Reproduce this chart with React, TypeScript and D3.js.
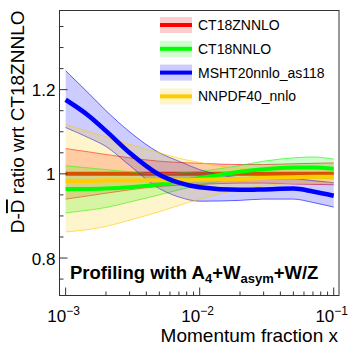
import React from 'react';
import * as d3 from 'd3';

// momentum fraction grid
const xs = [0.001, 0.0015, 0.002, 0.003, 0.005, 0.007, 0.01, 0.02, 0.03, 0.05, 0.07, 0.1];

const ct18zCen = [1, 1, 1, 1, 1, 1, 1, 1, 1, 1, 1, 1];
const ct18zUp = [1.06, 1.052, 1.046, 1.038, 1.03, 1.027, 1.025, 1.022, 1.022, 1.024, 1.025, 1.026];
const ct18zLo = [0.94, 0.948, 0.954, 0.962, 0.97, 0.973, 0.975, 0.978, 0.978, 0.976, 0.975, 0.974];

const ct18Cen = [0.964, 0.964, 0.965, 0.968, 0.975, 0.982, 0.99, 1.005, 1.011, 1.015, 1.015, 1.012];
const ct18Up = [1.019, 1.014, 1.01, 1.005, 1.0, 1.002, 1.006, 1.02, 1.03, 1.038, 1.04, 1.035];
const ct18Lo = [0.907, 0.914, 0.92, 0.933, 0.95, 0.962, 0.973, 0.99, 0.993, 0.993, 0.99, 0.988];

const mshtCen = [1.176, 1.137, 1.102, 1.05, 0.998, 0.979, 0.968, 0.962, 0.963, 0.965, 0.958, 0.948];
const mshtUp = [1.245, 1.19, 1.15, 1.1, 1.05, 1.03, 1.01, 0.99, 0.987, 0.988, 0.984, 0.979];
const mshtLo = [1.11, 1.085, 1.065, 1.02, 0.965, 0.945, 0.935, 0.937, 0.94, 0.94, 0.932, 0.921];

const nnpdfCen = [0.983, 0.983, 0.984, 0.984, 0.985, 0.985, 0.986, 0.988, 0.99, 0.992, 0.993, 0.993];
const nnpdfUp = [1.117, 1.1, 1.088, 1.07, 1.05, 1.037, 1.027, 1.013, 1.01, 1.01, 1.01, 1.01];
const nnpdfLo = [0.862, 0.868, 0.875, 0.89, 0.91, 0.925, 0.94, 0.963, 0.972, 0.977, 0.978, 0.978];

const names = ['CT18ZNNLO', 'CT18NNLO', 'MSHT20nnlo_as118', 'NNPDF40_nnlo'];
const colors = ['#ff0000', '#00ff00', '#0000ff', '#ffcc00'];

const yMajor = [0.8, 1, 1.2];
const yMajorLabels = ['0.8', '1', '1.2'];
const xMajor = [0.001, 0.01, 0.1];
const xMajorExp = ['−3', '−2', '−1'];

const frame = { left: 59.5, right: 339, top: 10.5, bottom: 295.5 };

const x = d3.scaleLog().domain([0.0009, 0.1095]).range([frame.left, frame.right]);
const y = d3.scaleLinear().domain([0.711, 1.388]).range([frame.bottom, frame.top]);

const sets = [
  { cen: ct18zCen, up: ct18zUp, lo: ct18zLo },
  { cen: ct18Cen, up: ct18Up, lo: ct18Lo },
  { cen: mshtCen, up: mshtUp, lo: mshtLo },
  { cen: nnpdfCen, up: nnpdfUp, lo: nnpdfLo },
];

const line = (vals: number[]) =>
  d3.line<number>().x((_, i) => x(xs[i])).y((d) => y(d)).curve(d3.curveMonotoneX)(vals) || '';

const band = (up: number[], lo: number[]) =>
  d3
    .area<number>()
    .x((_, i) => x(xs[i]))
    .y0((_, i) => y(lo[i]))
    .y1((d) => y(d))
    .curve(d3.curveMonotoneX)(up) || '';

export default function App() {
  const font = "'Liberation Sans', Arial, Helvetica, sans-serif";

  // minor ticks
  const yMinor = d3.range(0.75, 1.36, 0.05).filter((v) => !yMajor.some((m) => Math.abs(m - v) < 1e-6));
  const xMinor: number[] = [];
  [0.001, 0.01].forEach((dec) => {
    for (let k = 2; k <= 9; k++) xMinor.push(dec * k);
  });

  return (
    <div style={{ position: 'fixed', left: 0, top: 0 }}>
      <svg width={349} height={349} style={{ display: 'block', background: '#fff' }} fontFamily={font}>
        {/* bands and lines */}
        {sets.map((s, i) => (
          <g key={'b' + i}>
            <path d={band(s.up, s.lo)} fill={colors[i]} fillOpacity={0.2} stroke="none" />
            <path d={line(s.up)} fill="none" stroke={colors[i]} strokeWidth={1} strokeOpacity={0.6} />
            <path d={line(s.lo)} fill="none" stroke={colors[i]} strokeWidth={1} strokeOpacity={0.6} />
            {i === 0 && <path d={line(s.cen)} fill="none" stroke={colors[i]} strokeWidth={4} />}
          </g>
        ))}
        {[1, 3, 2].map((i) => (
          <path key={'c' + i} d={line(sets[i].cen)} fill="none" stroke={colors[i]} strokeWidth={i === 2 ? 4.5 : 4} />
        ))}

        {/* frame */}
        <rect
          x={frame.left}
          y={frame.top}
          width={frame.right - frame.left}
          height={frame.bottom - frame.top}
          fill="none"
          stroke="#333"
          strokeWidth={1}
        />

        {/* y ticks */}
        {yMajor.map((v, i) => (
          <g key={'ym' + i}>
            <line x1={frame.left} x2={frame.left + 8} y1={y(v)} y2={y(v)} stroke="#333" />
            <text x={frame.left - 4} y={y(v) + 6.5} fontSize={17} textAnchor="end">
              {yMajorLabels[i]}
            </text>
          </g>
        ))}
        {yMinor.map((v, i) => (
          <line key={'yn' + i} x1={frame.left} x2={frame.left + 4} y1={y(v)} y2={y(v)} stroke="#333" />
        ))}

        {/* x ticks */}
        {xMajor.map((v, i) => (
          <g key={'xm' + i}>
            <line x1={x(v)} x2={x(v)} y1={frame.bottom} y2={frame.bottom - 8} stroke="#333" />
            <text x={x(v) - 2} y={322} fontSize={17} textAnchor="middle">
              10
              <tspan dy={-7} fontSize={12}>
                {xMajorExp[i]}
              </tspan>
            </text>
          </g>
        ))}
        {xMinor.map((v, i) => (
          <line key={'xn' + i} x1={x(v)} x2={x(v)} y1={frame.bottom} y2={frame.bottom - 4} stroke="#333" />
        ))}

        {/* axis titles */}
        <text x={frame.right - 1} y={342} fontSize={19} textAnchor="end">
          Momentum fraction x
        </text>
        <text transform={`translate(24, ${frame.top}) rotate(-90)`} fontSize={19} textAnchor="end">
          D-<tspan style={{ textDecoration: 'overline' }}>D</tspan> ratio wrt CT18ZNNLO
        </text>

        {/* legend */}
        {names.map((n, i) => {
          const cy = 25 + i * 23.8;
          return (
            <g key={'l' + i}>
              <rect x={160} y={cy - 8} width={32} height={16} fill={colors[i]} fillOpacity={0.2} />
              <line x1={160} x2={192} y1={cy} y2={cy} stroke={colors[i]} strokeWidth={4} />
              <text x={198} y={cy + 5} fontSize={14}>
                {n}
              </text>
            </g>
          );
        })}

        {/* annotation */}
        <text x={70} y={279} fontSize={18.5} fontWeight="bold">
          Profiling with A<tspan dy={4} fontSize={13}>4</tspan>
          <tspan dy={-4}>+W</tspan>
          <tspan dy={4} fontSize={13}>asym</tspan>
          <tspan dy={-4}>+W/Z</tspan>
        </text>
      </svg>
    </div>
  );
}
